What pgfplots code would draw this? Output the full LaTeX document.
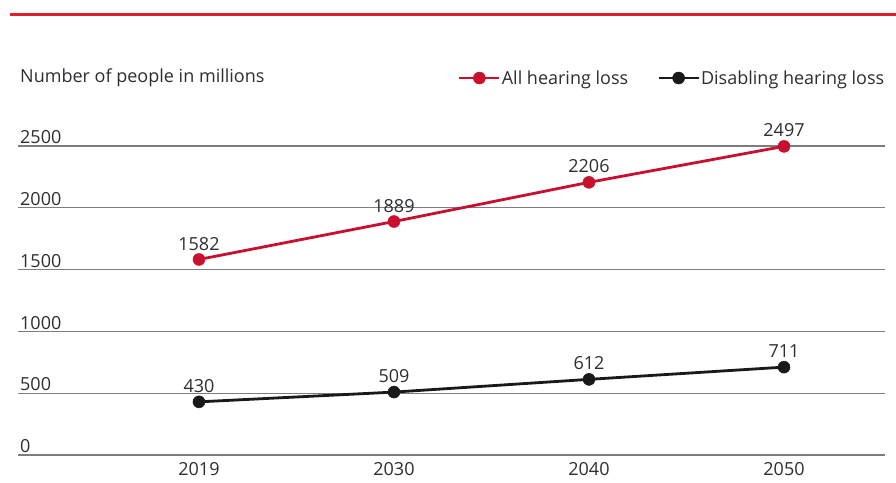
\documentclass[border=0pt]{standalone}
\usepackage{fontspec}
\setmainfont{Open Sans}
\usepackage{pgfplots}
\pgfplotsset{compat=1.18}
\definecolor{hred}{RGB}{200,16,46}
\definecolor{topred}{RGB}{226,30,48}
\definecolor{hblack}{RGB}{25,25,25}
\definecolor{txt}{RGB}{45,45,50}
\definecolor{gridc}{RGB}{125,125,125}
\begin{document}
\begin{tikzpicture}[font=\fontsize{18}{21}\selectfont]
\useasboundingbox (0,0) rectangle (896pt,482pt);
\draw[topred, line width=3pt] (10pt,467pt) -- (896pt,467pt);
\begin{axis}[
  at={(18pt,27pt)}, anchor=south west,
  scale only axis, width=867pt, height=309pt,
  xmin=-0.928, xmax=3.518, ymin=0, ymax=2500,
  clip=false,
  axis line style={draw=none},
  tick style={draw=none},
  ymajorgrids, grid style={gridc, line width=1.4pt},
  xtick={0,1,2,3}, xticklabels={2019,2030,2040,2050},
  ytick={0,500,1000,1500,2000,2500},
  /pgf/number format/.cd, 1000 sep={}, assume math mode=true, /pgfplots/.cd,
  yticklabel style={anchor=south west, inner sep=0pt, xshift=2pt, yshift=2pt, text=txt},
  xticklabel style={text=txt, yshift=-4pt},
  every node near coord/.append style={text=txt, anchor=south, inner sep=0pt, yshift=9pt, font=\fontsize{18}{21}\selectfont},
  legend style={at={(rel axis cs:1.004,1.22)}, anchor=east, draw=none, fill=none,
    legend columns=2, text=txt, font=\fontsize{18}{21}\selectfont,
    nodes={inner xsep=1pt, inner ysep=0pt},
    /tikz/every even column/.append style={column sep=28pt}},
  legend image code/.code={\draw[mark repeat=2,mark phase=2,#1] plot coordinates {(0pt,0pt)(20pt,0pt)(40pt,0pt)};},
]
\addplot[hred, line width=2.8pt, mark=*, mark size=6pt, mark options={line width=0.5pt}, nodes near coords]
  coordinates {(0,1582)(1,1889)(2,2206)(3,2497)};
\addlegendentry{All hearing loss}
\addplot[hblack, line width=2.8pt, mark=*, mark size=6pt, mark options={line width=0.5pt}, nodes near coords]
  coordinates {(0,430)(1,509)(2,612)(3,711)};
\addlegendentry{Disabling hearing loss}
\node[anchor=west, text=txt, inner sep=0pt, xshift=2pt] at (rel axis cs:0,1.22) {Number of people in millions};
\end{axis}
\end{tikzpicture}
\end{document}
